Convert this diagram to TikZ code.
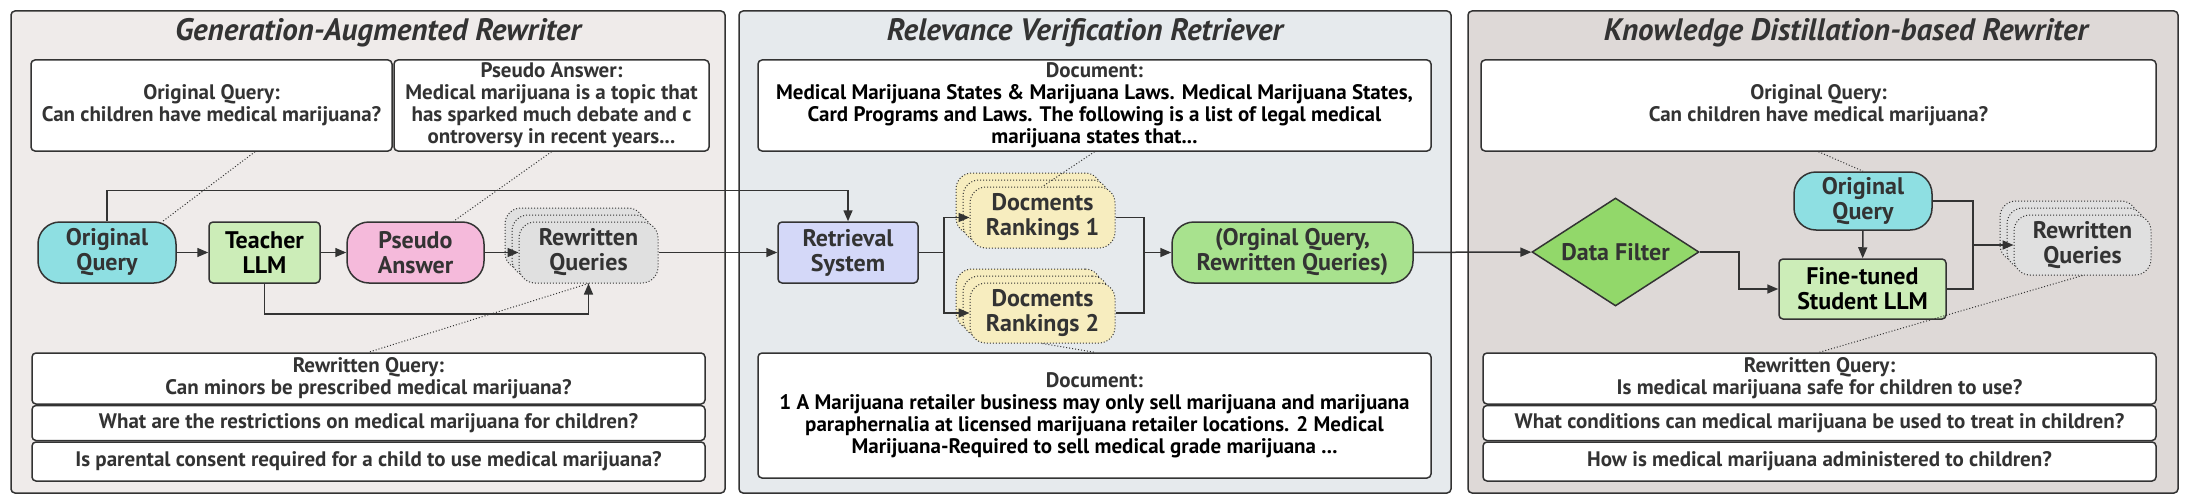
\documentclass[tikz,border=0pt]{standalone}
\usepackage{fontspec}
\setmainfont{PT Sans}
\usepackage{xcolor}
\usepackage{tikz}
\usetikzlibrary{
  arrows.meta,
  positioning,
  calc,
  shapes.geometric,
  shadows
}
\definecolor{panelA}{HTML}{EFEBEA}
\definecolor{panelB}{HTML}{E6EAED}
\definecolor{panelC}{HTML}{DED9D7}
\definecolor{edgecolor}{HTML}{333333}
\definecolor{querycolor}{HTML}{8EDFE2}
\definecolor{llmcolor}{HTML}{CCEDB8}
\definecolor{answercolor}{HTML}{F5BADB}
\definecolor{rewritecolor}{HTML}{E0E0E0}
\definecolor{retrcolor}{HTML}{D4D8F8}
\definecolor{rankcolor}{HTML}{F7EDBF}
\definecolor{paircolor}{HTML}{A8E28E}
\definecolor{filtercolor}{HTML}{92D86A}

\begin{document}
\begin{tikzpicture}[
  x=1pt, y=-1pt,
  panel/.style={draw=edgecolor, line width=1.5pt, rounded corners=4pt, inner sep=0pt},
  ttl/.style={font=\bfseries\itshape\fontsize{31}{34}\selectfont, text=edgecolor},
  txtbox/.style={draw=edgecolor, line width=1.5pt, fill=white, rounded corners=4pt, align=center,
    inner sep=0pt, font=\bfseries\fontsize{21}{22}\selectfont, text=edgecolor},
  term/.style={draw=edgecolor, line width=1.5pt, rounded corners=22pt, align=center, inner sep=0pt,
    minimum height=61pt, font=\bfseries\fontsize{24}{25}\selectfont, text=edgecolor},
  proc/.style={draw=edgecolor, line width=1.5pt, rounded corners=4pt, align=center, inner sep=0pt,
    minimum height=61pt, font=\bfseries\fontsize{24}{25}\selectfont, text=black},
  stack/.style={term, line width=1pt, dotted, rounded corners=16pt, fill=#1,
    double copy shadow={shadow xshift=-7pt, shadow yshift=7pt, fill=#1, draw=edgecolor, dotted}},
  arr/.style={draw=edgecolor, line width=1.5pt, -{Triangle[length=11pt, width=9pt]}},
  wire/.style={draw=edgecolor, line width=1.5pt},
  link/.style={draw=edgecolor, line width=1pt, dotted},
]
  \useasboundingbox (0,0) rectangle (2187,503);

  % Panels
  \node[panel, fill=panelA, minimum width=714pt, minimum height=482pt] (genpanel) at (368,252) {};
  \node[panel, fill=panelB, minimum width=712pt, minimum height=482pt] (retpanel) at (1095,252) {};
  \node[panel, fill=panelC, minimum width=710pt, minimum height=482pt] (kdpanel) at (1823,252) {};
  \node[ttl] (genttl) at (378,33) {Generation-Augmented Rewriter};
  \node[ttl] (retttl) at (1085,33) {Relevance Verification Retriever};
  \node[ttl] (kdttl) at (1846,33) {Knowledge Distillation-based Rewriter};

  % Generation-Augmented Rewriter
  \node[txtbox, minimum width=361pt, minimum height=91pt] (oqtxt) at (211.5,105.5)
    {Original Query:\\Can children have medical marijuana?};
  \node[txtbox, minimum width=315pt, minimum height=91pt] (patxt) at (551.5,105.5)
    {Pseudo Answer:\\Medical marijuana is a topic that\\has sparked much debate and c\\ontroversy in recent years...};
  \node[term, fill=querycolor, minimum width=138pt] (oq1) at (107,252.5) {Original\\Query};
  \node[proc, fill=llmcolor, minimum width=111pt] (teacher) at (264.5,252.5) {Teacher\\LLM};
  \node[term, fill=answercolor, minimum width=137pt] (pseudo) at (415.5,252.5) {Pseudo\\Answer};
  \node[stack=rewritecolor, minimum width=139pt] (rwq1) at (588.5,252.5) {Rewritten\\Queries};
  \node[txtbox, minimum width=673pt, minimum height=51pt] (rwa1) at (368.5,378.5)
    {Rewritten Query:\\Can minors be prescribed medical marijuana?};
  \node[txtbox, minimum width=673pt, minimum height=35pt, below=0pt of rwa1] (rwa2)
    {What are the restrictions on medical marijuana for children?};
  \node[txtbox, minimum width=673pt, minimum height=39pt, below=0pt of rwa2] (rwa3)
    {Is parental consent required for a child to use medical marijuana?};

  % Relevance Verification Retriever
  \node[txtbox, minimum width=673pt, minimum height=91pt, text=black] (doc1) at (1094.5,105.5)
    {{\color{edgecolor}Document:}\\Medical Marijuana States \& Marijuana Laws. Medical Marijuana States,\\Card Programs and Laws. The following is a list of legal medical\\marijuana states that...};
  \node[proc, fill=retrcolor, minimum width=140pt, text=edgecolor] (retr) at (848,252.5) {Retrieval\\System};
  \node[stack=rankcolor, minimum width=145pt] (rank1) at (1042.5,217.5) {Docments\\Rankings 1};
  \node[stack=rankcolor, minimum width=145pt, minimum height=60pt] (rank2) at (1042.5,313) {Docments\\Rankings 2};
  \node[term, fill=paircolor, minimum width=241pt] (pair) at (1292.5,252.5) {(Orginal Query,\\Rewritten Queries)};
  \node[txtbox, minimum width=673pt, minimum height=125pt, text=black] (doc2) at (1094.5,415.5)
    {{\color{edgecolor}Document:}\\1 A Marijuana retailer business may only sell marijuana and marijuana\\paraphernalia at licensed marijuana retailer locations. 2 Medical\\Marijuana-Required to sell medical grade marijuana ...};

  % Knowledge Distillation-based Rewriter
  \node[txtbox, minimum width=675pt, minimum height=91pt] (oqtxt3) at (1818.5,105.5)
    {Original Query:\\Can children have medical marijuana?};
  \node[diamond, draw=edgecolor, line width=1.5pt, fill=filtercolor, aspect=1.55, inner sep=0pt,
    minimum width=167pt, minimum height=108pt, font=\bfseries\fontsize{24}{25}\selectfont,
    text=edgecolor] (filter) at (1615.5,252) {Data Filter};
  \node[term, fill=querycolor, minimum width=138pt, minimum height=58pt] (oq3) at (1863,201) {Original\\Query};
  \node[proc, fill=llmcolor, minimum width=167pt, minimum height=60pt] (student) at (1862.5,289) {Fine-tuned\\Student LLM};
  \node[stack=rewritecolor, minimum width=137pt, minimum height=60pt] (rwq3) at (2082.5,245) {Rewritten\\Queries};
  \node[txtbox, minimum width=673pt, minimum height=51pt] (rwb1) at (1819.5,378.5)
    {Rewritten Query:\\Is medical marijuana safe for children to use?};
  \node[txtbox, minimum width=673pt, minimum height=35pt, below=0pt of rwb1] (rwb2)
    {What conditions can medical marijuana be used to treat in children?};
  \node[txtbox, minimum width=673pt, minimum height=39pt, below=0pt of rwb2] (rwb3)
    {How is medical marijuana administered to children?};

  % Flow
  \draw[arr] (oq1) -- (teacher);
  \draw[arr] (teacher) -- (pseudo);
  \draw[arr] (pseudo) -- (rwq1);
  \draw[arr] (teacher.south) -- ++(0,30) -| (rwq1.south);
  \draw[arr] (oq1.north) -- ++(0,-31) -| (retr.north);
  \draw[arr] (rwq1) -- (retr);
  \draw[wire] (retr.east) -- ++(25,0) coordinate (splitjn);
  \draw[arr] (splitjn) |- (rank1.west);
  \draw[arr] (splitjn) |- (rank2.west);
  \coordinate (rankjn) at (1144,252.5);
  \draw[wire] (rank1.east) -| (rankjn);
  \draw[wire] (rank2.east) -| (rankjn);
  \draw[arr] (rankjn) -- (pair.west);
  \draw[arr] (pair) -- (filter);
  \draw[arr] (filter.east) -- ++(39,0) |- (student.west);
  \draw[arr] (oq3) -- (student);
  \coordinate (outjn) at (1973,245);
  \draw[wire] (oq3.east) -| (outjn);
  \draw[wire] (student.east) -| (outjn);
  \draw[arr] (outjn) -- (rwq3.west);

  % Dotted call-outs
  \draw[link] ($(oqtxt.south west)!0.62!(oqtxt.south east)$) -- ($(oq1.north)!0.8!(oq1.north east)$);
  \draw[link] (patxt.south) -- ($(pseudo.north)!0.55!(pseudo.north east)$);
  \draw[link] (rwq1.south) -- (rwa1.north);
  \draw[link] (doc1.south) -- (rank1.north);
  \draw[link] (rank2.south) -- (doc2.north);
  \draw[link] (oqtxt3.south) -- (oq3.north);
  \draw[link] (rwq3.south) -- (rwb1.north);
\end{tikzpicture}
\end{document}
